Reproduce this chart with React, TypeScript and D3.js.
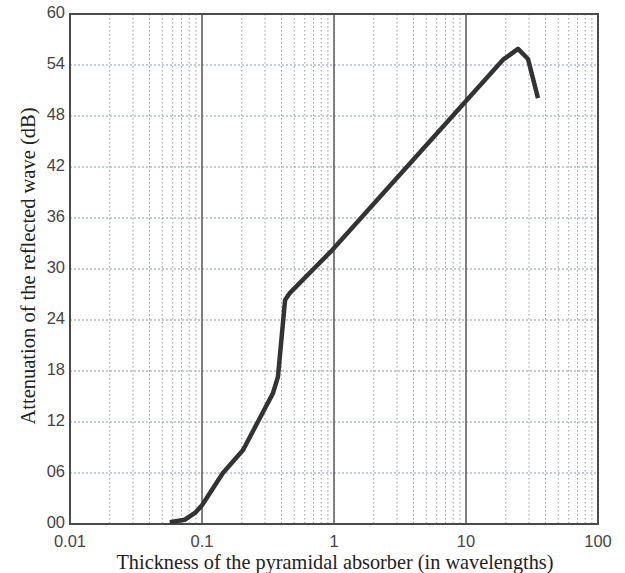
import { useRef, useEffect } from 'react';
import * as d3 from 'd3';

// curve
const thickness = [0.057, 0.074, 0.0885, 0.1, 0.144, 0.2047, 0.345, 0.376, 0.426, 0.464, 0.966, 6.35, 19.0, 24.8, 29.5, 35.1];
const attenuation = [0.2, 0.5, 1.3, 2.2, 6.0, 8.7, 15.4, 17.3, 26.35, 27.2, 32.2, 46.35, 54.6, 55.9, 54.7, 50.1];

const xTicks = [0.01, 0.1, 1, 10, 100];
const yTicks = [0, 6, 12, 18, 24, 30, 36, 42, 48, 54, 60];

const width = 625;
const height = 573;
const margin = { top: 14, left: 70, bottom: 49, right: 27 };

const Chart = () => {
  const ref = useRef(null);

  useEffect(() => {
    const svg = d3.select(ref.current);
    svg.selectAll('*').remove();

    const x = d3
      .scaleLog()
      .domain([0.01, 100])
      .range([margin.left, width - margin.right]);
    const y = d3
      .scaleLinear()
      .domain([0, 60])
      .range([height - margin.bottom, margin.top]);

    svg.append('rect').attr('width', width).attr('height', height).attr('fill', 'white');

    // minor vertical grid
    const minor = [];
    for (let e = -2; e < 2; e++) {
      for (let k = 2; k <= 9; k++) minor.push(k * Math.pow(10, e));
    }
    svg
      .append('g')
      .selectAll('line')
      .data(minor)
      .enter()
      .append('line')
      .attr('x1', (d) => x(d))
      .attr('x2', (d) => x(d))
      .attr('y1', y(60))
      .attr('y2', y(0))
      .attr('stroke', '#999')
      .attr('stroke-width', 1)
      .attr('stroke-dasharray', '1.5,2.5');

    // horizontal grid
    svg
      .append('g')
      .selectAll('line')
      .data(yTicks.slice(1, -1))
      .enter()
      .append('line')
      .attr('x1', x(0.01))
      .attr('x2', x(100))
      .attr('y1', (d) => y(d))
      .attr('y2', (d) => y(d))
      .attr('stroke', '#8d9ab0')
      .attr('stroke-width', 1.2)
      .attr('stroke-dasharray', '2,2');

    // decade lines
    svg
      .append('g')
      .selectAll('line')
      .data(xTicks.slice(1, -1))
      .enter()
      .append('line')
      .attr('x1', (d) => x(d))
      .attr('x2', (d) => x(d))
      .attr('y1', y(60))
      .attr('y2', y(0))
      .attr('stroke', '#555')
      .attr('stroke-width', 1.5);

    // frame
    svg
      .append('rect')
      .attr('x', x(0.01))
      .attr('y', y(60))
      .attr('width', x(100) - x(0.01))
      .attr('height', y(0) - y(60))
      .attr('fill', 'none')
      .attr('stroke', '#4a4a4a')
      .attr('stroke-width', 2);

    // curve
    const pts = thickness.map((t, i) => [t, attenuation[i]]);
    const line = d3
      .line()
      .x((d) => x(d[0]))
      .y((d) => y(d[1]))
      .curve(d3.curveLinear);
    svg
      .append('path')
      .datum(pts)
      .attr('d', line)
      .attr('fill', 'none')
      .attr('stroke', '#333')
      .attr('stroke-width', 4.5)
      .attr('stroke-linejoin', 'round');

    // y tick labels
    svg
      .append('g')
      .selectAll('text')
      .data(yTicks)
      .enter()
      .append('text')
      .attr('x', margin.left - 5)
      .attr('y', (d) => y(d))
      .attr('dy', '0.22em')
      .attr('text-anchor', 'end')
      .attr('font-family', 'Liberation Sans, Arial, sans-serif')
      .attr('font-size', 16.5)
      .attr('fill', '#444')
      .text((d) => d3.format('02d')(d));

    // x tick labels
    svg
      .append('g')
      .selectAll('text')
      .data(xTicks)
      .enter()
      .append('text')
      .attr('x', (d) => x(d))
      .attr('y', 546.5)
      .attr('text-anchor', 'middle')
      .attr('font-family', 'Liberation Sans, Arial, sans-serif')
      .attr('font-size', 16.5)
      .attr('fill', '#444')
      .text((d) => String(d));

    // axis titles
    svg
      .append('text')
      .attr('x', 335)
      .attr('y', 568.5)
      .attr('text-anchor', 'middle')
      .attr('font-family', 'Liberation Serif, Times New Roman, serif')
      .attr('font-size', 20.3)
      .attr('fill', '#222')
      .text('Thickness of the pyramidal absorber (in wavelengths)');

    svg
      .append('text')
      .attr('transform', `translate(35, 266) rotate(-90)`)
      .attr('text-anchor', 'middle')
      .attr('font-family', 'Liberation Serif, Times New Roman, serif')
      .attr('font-size', 20.5)
      .attr('fill', '#222')
      .text('Attenuation of the reflected wave (dB)');
  }, []);

  return <svg ref={ref} width={width} height={height} style={{ display: 'block' }}></svg>;
};

export default function App() {
  return (
    <div style={{ position: 'absolute', left: 0, top: 0 }}>
      <Chart />
    </div>
  );
}
